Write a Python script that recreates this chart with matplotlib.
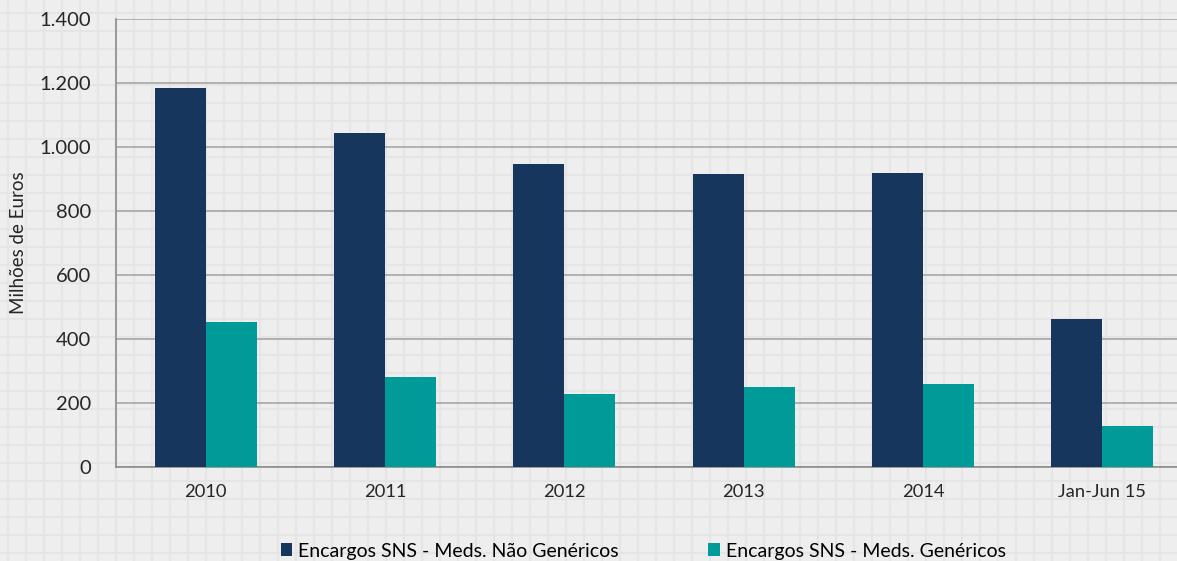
import numpy as np
import matplotlib.pyplot as plt
from matplotlib.lines import Line2D

categories = ["2010", "2011", "2012", "2013", "2014", "Jan-Jun 15"]
nao_genericos = [1185, 1045, 946, 915, 918, 461]
genericos = [453, 281, 229, 250, 258, 128]
yticks = [0, 200, 400, 600, 800, 1000, 1200, 1400]
ytick_labels = ["0", "200", "400", "600", "800", "1.000", "1.200", "1.400"]

navy = "#17365d"
teal = "#009a98"

W, H = 1177, 561
fig = plt.figure(figsize=(W / 100, H / 100), dpi=100)
fig.patch.set_facecolor("#eeeeee")
plt.rcParams['font.family'] = ['Lato', 'DejaVu Sans']

# graph-paper background
for x in np.arange(8, W, 18):
    fig.add_artist(Line2D([x / W, x / W], [0, 1], transform=fig.transFigure,
                          color="#e5e5e5", lw=1.6, zorder=0))
for y in np.arange(13, H, 18):
    fig.add_artist(Line2D([0, 1], [1 - y / H, 1 - y / H], transform=fig.transFigure,
                          color="#e5e5e5", lw=1.6, zorder=0))

left, right = 116, 1192
top, bottom = 19, 467
ax = fig.add_axes([left / W, 1 - bottom / H, (right - left) / W, (bottom - top) / H])
ax.patch.set_alpha(0)

x = np.arange(len(categories))
w = 0.285
ax.bar(x - w / 2, nao_genericos, w, color=navy, zorder=3,
       label="Encargos SNS - Meds. Não Genéricos")
ax.bar(x + w / 2, genericos, w, color=teal, zorder=3,
       label="Encargos SNS - Meds. Genéricos")

ax.set_xlim(-0.5, len(categories) - 0.5)
ax.set_ylim(0, 1400)
ax.set_yticks(yticks)
ax.set_yticklabels(ytick_labels)
ax.set_xticks(x)
ax.set_xticklabels(categories)
ax.yaxis.grid(True, color="#a6a6a6", lw=1.2, zorder=1)
ax.set_axisbelow(True)
ax.tick_params(axis="both", length=0, colors="#262626")
ax.tick_params(axis="y", pad=18, labelsize=14.5)
ax.tick_params(axis="x", pad=12, labelsize=13.2)
for s in ["top", "right"]:
    ax.spines[s].set_visible(False)
for s in ["left", "bottom"]:
    ax.spines[s].set_color("#8c8c8c")
    ax.spines[s].set_linewidth(1.2)
ax.set_ylabel("Milhões de Euros", fontsize=13.5, color="#262626")
ax.yaxis.set_label_coords(-0.083, 0.5)

ax.legend(loc="center left", bbox_to_anchor=(271 / W, 1 - 551 / H), bbox_transform=fig.transFigure,
          ncol=2, frameon=False, fontsize=14, handlelength=0.6, handleheight=0.6,
          handletextpad=0.3, columnspacing=4.6, borderpad=0)

fig.savefig("out.png", dpi=100, facecolor=fig.get_facecolor())
